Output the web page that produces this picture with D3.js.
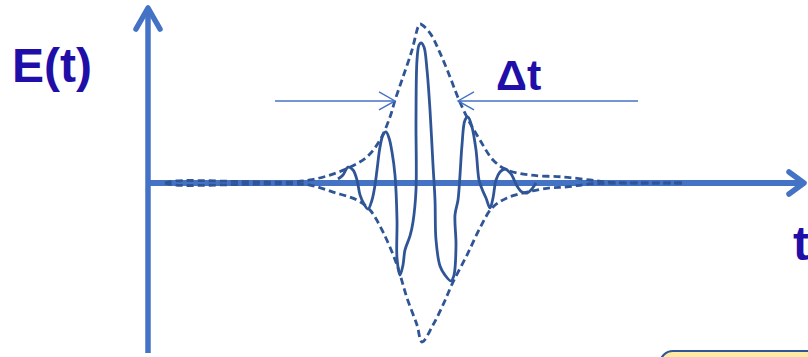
<!DOCTYPE html>
<html>
<head>
<meta charset="utf-8">
<script src="https://cdn.jsdelivr.net/npm/d3@7"></script>
<style>
  html, body { margin: 0; padding: 0; background: #fff; }
  svg { display: block; }
</style>
</head>
<body>
<div id="chart"></div>
<script>
// time in arbitrary units (pulse centre at 0), field normalised to envelope peak
var envUpperT = [-25.5, -24.5, -17, -13, -11, -9, -7, -5.3, -4, -3, -2.5, -1.7, -0.8, -0.2, 0, 1, 2, 3, 3.9, 5, 6, 7.3, 8.7, 11, 14.3, 17, 18.7, 22, 26.5];
var envUpperE = [0, 0.013, 0.008, 0.006, 0.019, 0.05, 0.10, 0.164, 0.27, 0.415, 0.52, 0.667, 0.836, 0.98, 1.0, 0.943, 0.818, 0.667, 0.522, 0.377, 0.27, 0.145, 0.082, 0.05, 0.038, 0.019, 0.006, 0, 0];

var envLowerT = [-25.5, -24.5, -17, -13, -11, -8.7, -6.3, -5, -3.7, -2.3, -1.3, -0.3, 0.2, 1.3, 2.3, 3.3, 4.7, 6, 7.2, 8.7, 10.7, 13, 14.7, 17, 22, 26.5];
var envLowerE = [0, -0.013, -0.008, -0.006, -0.013, -0.057, -0.107, -0.17, -0.308, -0.516, -0.723, -0.893, -1.0, -0.893, -0.767, -0.623, -0.453, -0.283, -0.157, -0.094, -0.057, -0.031, -0.025, -0.006, 0, 0];

var waveT = [-8.2, -7.7, -7.2, -6.7, -6.3, -6.0, -5.6, -5.2, -4.8, -4.5, -4.3, -4.0, -3.7, -3.4, -3.1, -2.8, -2.5, -2.3, -2.3, -2.0, -1.7, -1.5, -1.0, -0.7, -0.4, -0.4, -0.3, -0.1, 0.1, 0.4, 0.7, 1.0, 1.3, 1.5, 1.6, 2.0, 2.5, 3.1, 3.4, 3.6, 3.5, 3.8, 4.0, 4.2, 4.5, 4.8, 5.2, 5.6, 5.9, 6.2, 6.6, 7.0, 7.3, 7.6, 8.0, 8.5, 9.1, 9.7, 10.2, 10.7, 11.1, 11.6];
var waveE = [0.025, 0.05, 0.10, 0.082, 0.019, -0.075, -0.132, -0.164, -0.107, -0.013, 0.082, 0.226, 0.302, 0.321, 0.283, 0.195, 0.05, -0.233, -0.472, -0.579, -0.516, -0.421, -0.333, -0.245, -0.044, 0.396, 0.774, 0.868, 0.881, 0.855, 0.711, 0.459, 0.113, -0.107, -0.358, -0.522, -0.579, -0.616, -0.579, -0.390, -0.201, -0.107, 0.05, 0.239, 0.396, 0.415, 0.352, 0.208, 0.019, -0.038, -0.094, -0.157, -0.094, 0.019, 0.069, 0.088, 0.057, -0.019, -0.057, -0.063, -0.044, 0];

// pulse width marker (half-height crossings) and its level
var deltaT = [-2.5, 3.8];
var deltaLevel = 0.516;
var deltaLineEnds = [-14.5, 21.8];

var width = 808, height = 357;
var axisColor = "#4472c4";
var curveColor = "#2f5597";
var textColor = "#1f0fa8";

var svg = d3.select("#chart").append("svg")
    .attr("width", width)
    .attr("height", height)
    .style("font-family", "'Liberation Sans', Arial, sans-serif");

var x = d3.scaleLinear()
    .domain([-27.2, 38.6])
    .range([148, 806]);

var y = d3.scaleLinear()
    .domain([-1, 1])
    .range([342, 24]);

var line = d3.line()
    .x(function(d) { return x(d[0]); })
    .y(function(d) { return y(d[1]); })
    .curve(d3.curveCatmullRom.alpha(0.5));

// yellow box peeking in at the bottom right
svg.append("rect")
    .attr("x", 660)
    .attr("y", 351)
    .attr("width", 200)
    .attr("height", 40)
    .attr("rx", 13)
    .attr("fill", "#ffe9a3")
    .attr("stroke", curveColor)
    .attr("stroke-width", 2.2);

// axes
svg.append("line")
    .attr("x1", x(-27.2)).attr("x2", x(-27.2))
    .attr("y1", 353).attr("y2", 9)
    .attr("stroke", axisColor)
    .attr("stroke-width", 5.5);

svg.append("path")
    .attr("d", "M" + (x(-27.2) - 12) + ",29 L" + x(-27.2) + ",8 L" + (x(-27.2) + 12) + ",29")
    .attr("fill", "none")
    .attr("stroke", axisColor)
    .attr("stroke-width", 5.5)
    .attr("stroke-linecap", "round")
    .attr("stroke-linejoin", "round");

svg.append("line")
    .attr("x1", x(-27.2)).attr("x2", x(38.4))
    .attr("y1", y(0)).attr("y2", y(0))
    .attr("stroke", axisColor)
    .attr("stroke-width", 6);

// envelope
var upper = envUpperT.map(function(t, i) { return [t, envUpperE[i]]; });
var lower = envLowerT.map(function(t, i) { return [t, envLowerE[i]]; });

[upper, lower].forEach(function(d) {
    svg.append("path")
        .datum(d)
        .attr("d", line)
        .attr("fill", "none")
        .attr("stroke", curveColor)
        .attr("stroke-width", 2.8)
        .attr("stroke-dasharray", "7 4");
});

svg.append("path")
    .attr("d", "M" + (x(38.4) - 15) + "," + (y(0) - 11) + " L" + x(38.4) + "," + y(0) + " L" + (x(38.4) - 15) + "," + (y(0) + 11))
    .attr("fill", "none")
    .attr("stroke", axisColor)
    .attr("stroke-width", 5.5)
    .attr("stroke-linecap", "round")
    .attr("stroke-linejoin", "round");

// the field itself
svg.append("path")
    .datum(waveT.map(function(t, i) { return [t, waveE[i]]; }))
    .attr("d", line)
    .attr("fill", "none")
    .attr("stroke", curveColor)
    .attr("stroke-width", 2.8)
    .attr("stroke-linejoin", "round");

// delta t markers
var ly = y(deltaLevel);
svg.append("line")
    .attr("x1", x(deltaLineEnds[0])).attr("x2", x(deltaT[0]))
    .attr("y1", ly).attr("y2", ly)
    .attr("stroke", axisColor)
    .attr("stroke-width", 1.4);
svg.append("line")
    .attr("x1", x(deltaT[1])).attr("x2", x(deltaLineEnds[1]))
    .attr("y1", ly).attr("y2", ly)
    .attr("stroke", axisColor)
    .attr("stroke-width", 1.4);

svg.append("path")
    .attr("d", "M" + (x(deltaT[0]) - 16) + "," + (ly - 9) + " L" + x(deltaT[0]) + "," + ly + " L" + (x(deltaT[0]) - 16) + "," + (ly + 9))
    .attr("fill", "none")
    .attr("stroke", axisColor)
    .attr("stroke-width", 1.4);
svg.append("path")
    .attr("d", "M" + (x(deltaT[1]) + 16) + "," + (ly - 9) + " L" + x(deltaT[1]) + "," + ly + " L" + (x(deltaT[1]) + 16) + "," + (ly + 9))
    .attr("fill", "none")
    .attr("stroke", axisColor)
    .attr("stroke-width", 1.4);

// labels
svg.append("text")
    .attr("x", 12)
    .attr("y", 82)
    .attr("fill", textColor)
    .attr("font-size", 48)
    .attr("font-weight", "bold")
    .text("E(t)");

svg.append("text")
    .attr("x", 496)
    .attr("y", 90)
    .attr("fill", textColor)
    .attr("font-size", 43)
    .attr("font-weight", "bold")
    .text("Δt");

svg.append("text")
    .attr("x", 793)
    .attr("y", 260)
    .attr("fill", textColor)
    .attr("font-size", 48)
    .attr("font-weight", "bold")
    .text("t");
</script>
</body>
</html>
